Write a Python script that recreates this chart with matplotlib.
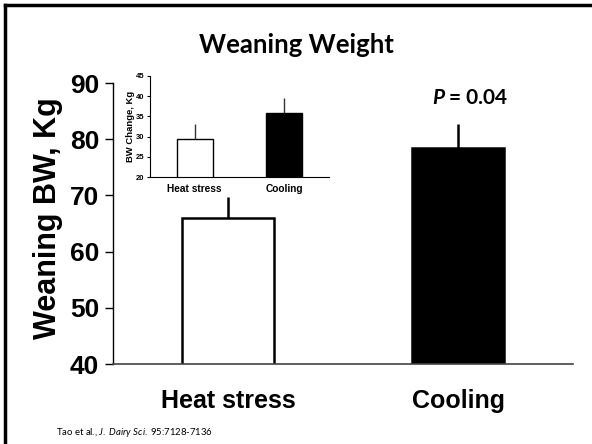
import matplotlib
matplotlib.use("Agg")
import matplotlib.pyplot as plt
from matplotlib.lines import Line2D

groups = ["Heat stress", "Cooling"]
weaning_bw = [66.0, 78.5]
weaning_se = [3.8, 4.2]
bw_change = [29.4, 35.8]
bw_change_se = [3.8, 3.7]
bar_colors = ["white", "black"]

ARIAL = "Liberation Sans"
TITLE_FONT = "Lato"

plt.rcParams["mathtext.fontset"] = "custom"
plt.rcParams["mathtext.rm"] = "Lato"
plt.rcParams["mathtext.it"] = "Lato:italic"
plt.rcParams["mathtext.bf"] = "Lato:bold"

fig = plt.figure(figsize=(5.92, 4.44), dpi=100)

# slide frame (left and top edges only visible)
fig.add_artist(Line2D([0.009, 0.009], [0.0, 0.988], transform=fig.transFigure,
                      color="black", lw=2.5))
fig.add_artist(Line2D([0.009, 1.0], [0.988, 0.988], transform=fig.transFigure,
                      color="black", lw=2.5))

# main chart
ax = fig.add_axes([0.191, 0.180, 0.777, 0.633])
x = [0.5, 1.5]
ax.bar(x, weaning_bw, width=0.4, color=bar_colors, edgecolor="black", linewidth=1.8,
       yerr=[[0, 0], weaning_se], error_kw=dict(ecolor="black", elinewidth=1.8, capsize=0),
       zorder=2)
ax.set_xlim(0, 2)
ax.set_ylim(40, 90)
ax.set_yticks([40, 50, 60, 70, 80, 90])
ax.set_xticks(x)
ax.set_xticklabels(groups)
for s in ["top", "right"]:
    ax.spines[s].set_visible(False)
ax.spines["left"].set_linewidth(1.0)
ax.spines["bottom"].set_linewidth(1.2)
ax.spines["bottom"].set_color("#444444")
ax.tick_params(axis="y", direction="out", length=6, width=1.0, pad=4)
ax.tick_params(axis="x", length=0, pad=18)
for lab in ax.get_yticklabels():
    lab.set_fontfamily(ARIAL)
    lab.set_fontweight("bold")
    lab.set_fontsize(19)
for lab in ax.get_xticklabels():
    lab.set_fontfamily(ARIAL)
    lab.set_fontweight("bold")
    lab.set_fontsize(18)
ax.set_ylabel("Weaning BW, Kg", fontfamily=ARIAL, fontweight="bold", fontsize=22)
ax.yaxis.set_label_coords(-0.108, 0.52)

ax.text(1.44, 87.3, "P", ha="right", va="center", fontfamily=TITLE_FONT,
        fontweight="bold", style="italic", fontsize=15)
ax.text(1.462, 87.3, "= 0.04", ha="left", va="center", fontfamily=TITLE_FONT,
        fontweight="bold", fontsize=15)

# inset chart
ins = fig.add_axes([0.2534, 0.601, 0.302, 0.228])
ins.bar(x, bw_change, width=0.4, color=bar_colors, edgecolor="black", linewidth=1.0,
        yerr=[[0, 0], bw_change_se], error_kw=dict(ecolor="#333333", elinewidth=1.0, capsize=0),
        zorder=2)
ins.set_xlim(0, 2)
ins.set_ylim(20, 45)
ins.set_yticks([20, 25, 30, 35, 40, 45])
ins.set_xticks(x)
ins.set_xticklabels(groups)
for s in ["top", "right"]:
    ins.spines[s].set_visible(False)
ins.spines["left"].set_linewidth(0.8)
ins.spines["bottom"].set_linewidth(0.8)
ins.tick_params(axis="y", direction="out", length=2.5, width=0.8, pad=1.5)
ins.tick_params(axis="x", length=0, pad=5)
for lab in ins.get_yticklabels():
    lab.set_fontfamily(ARIAL)
    lab.set_fontweight("bold")
    lab.set_fontsize(5.5)
for lab in ins.get_xticklabels():
    lab.set_fontfamily(ARIAL)
    lab.set_fontweight("bold")
    lab.set_fontsize(7.3)
ins.set_ylabel("BW Change, Kg", fontfamily=ARIAL, fontweight="bold", fontsize=6.8, labelpad=1)

fig.text(0.50, 0.898, "Weaning Weight", ha="center", va="center",
         fontfamily=TITLE_FONT, fontweight="bold", fontsize=18.5)

fig.text(0.095, 0.027, "Tao et al., $\\it{J.\\ Dairy\\ Sci.}$ 95:7128-7136",
         ha="left", va="center", fontfamily=TITLE_FONT, fontsize=6.8)

fig.savefig("out.png", dpi=100)
